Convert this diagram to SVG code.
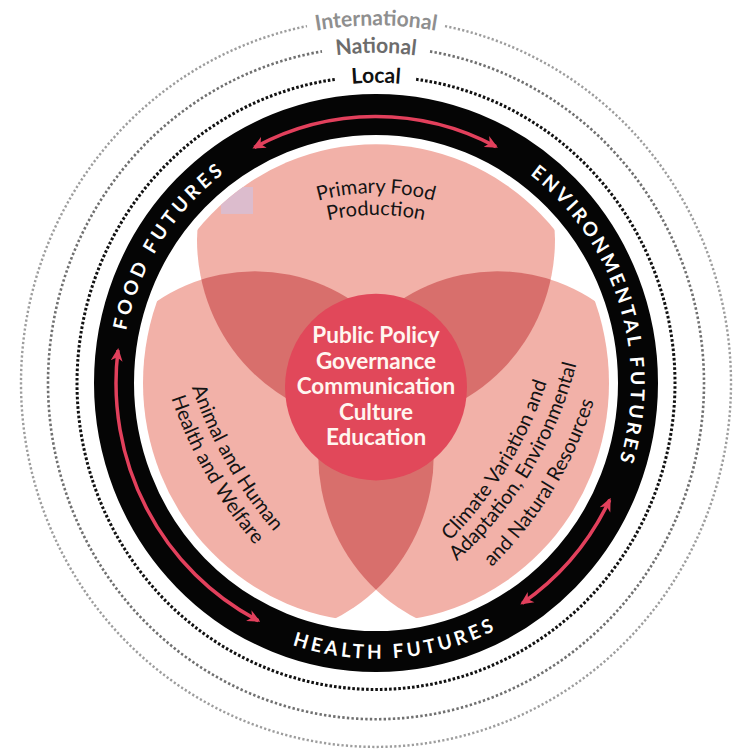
<svg xmlns="http://www.w3.org/2000/svg" width="739" height="754" viewBox="0 0 739 754">
<style>
.ring{fill:none;stroke:#050505;stroke-width:40}
.dl{fill:none;stroke:#111;stroke-width:3;stroke-dasharray:2.6 2}
.dn{fill:none;stroke:#707070;stroke-width:2.6;stroke-dasharray:2.4 2.2}
.di{fill:none;stroke:#9d9d9d;stroke-width:2.4;stroke-dasharray:2.2 2.2}
.petal{fill:#f2b1a8}
.ov{fill:#d86f6c}
.arr{fill:none;stroke:#e2405c;stroke-width:3.5;marker-start:url(#ah);marker-end:url(#ah)}
.rl{font-family:Lato,"Open Sans","Liberation Sans",sans-serif;font-weight:700;font-size:19px;fill:#fff}
.lvl{font-family:Lato,"Open Sans","Liberation Sans",sans-serif;font-weight:700;font-size:21px;text-anchor:middle}
.pt{font-family:Lato,"Open Sans","Liberation Sans",sans-serif;font-size:20px;fill:#141414;text-anchor:middle}
.ct{font-family:Lato,"Open Sans","Liberation Sans",sans-serif;font-weight:700;font-size:22.5px;fill:#fff6f0;text-anchor:middle}
</style>
<defs>
<marker id="ah" viewBox="0 0 12 12" refX="10" refY="6" markerWidth="13" markerHeight="13" markerUnits="userSpaceOnUse" orient="auto-start-reverse"><path d="M0,0.5 L12,6 L0,11.5 L3.5,6Z" fill="#e2405c"/></marker>
<clipPath id="disk"><circle cx="0" cy="0" r="233"/></clipPath>
<clipPath id="cT"><circle cx="0" cy="-140" r="179"/></clipPath>
<clipPath id="cL"><circle cx="-121.2" cy="70" r="179"/></clipPath>
<path id="pFood" d="M-226,118.1 A255,255 0 0 1 10.7,-254.8"/>
<path id="pEnv" d="M53.9,-249.2 A255,255 0 0 1 188.9,171.3"/>
<path id="pHealth" d="M-223,150.4 A269,269 0 0 0 241.8,117.9"/>
<path id="pInt" d="M-302.2,-174.5 A349,349 0 0 1 302.2,-174.5"/>
<path id="pNat" d="M-278.9,-161 A322,322 0 0 1 278.9,-161"/>
<path id="pLoc" d="M-253.7,-146.5 A293,293 0 0 1 253.7,-146.5"/>
<path id="pPF" d="M286,212.6 A216,216 0 0 1 466,212.6"/>
<path id="pPr" d="M286,234.6 A216,216 0 0 1 466,234.6"/>
<path id="pA1" d="M182,355 A450,450 0 0 0 297,557"/>
<path id="pA2" d="M162,367 A450,450 0 0 0 277,569"/>
<path id="pC1" d="M428,561 A400,400 0 0 0 555,354"/>
<path id="pC2" d="M437,578 A400,400 0 0 0 582,339"/>
<path id="pC3" d="M466,590 A400,400 0 0 0 603,368"/>
</defs>
<rect width="739" height="754" fill="#fff"/>
<g transform="translate(376 383) scale(1 1.025)">
  <g id="levels">
    <path class="di" d="M69,-348.2 A355,355 0 1 1 -69,-348.2"/>
    <path class="dn" d="M54,-323.5 A328,328 0 1 1 -54,-323.5"/>
    <path class="dl" d="M40.1,-296.3 A299,299 0 1 1 -40.1,-296.3"/>
    <text class="lvl" fill="#8f8f8f"><textPath href="#pInt" startOffset="50%">International</textPath></text>
    <text class="lvl" fill="#6c6c6c"><textPath href="#pNat" startOffset="50%">National</textPath></text>
    <text class="lvl" fill="#111"><textPath href="#pLoc" startOffset="50%">Local</textPath></text>
  </g>
  <g id="futures-ring">
    <circle class="ring" cx="0" cy="0" r="262"/>
    <text class="rl"><textPath href="#pFood" startOffset="50%" text-anchor="middle" textLength="186" lengthAdjust="spacing">FOOD FUTURES</textPath></text>
    <text class="rl"><textPath href="#pEnv" startOffset="50%" text-anchor="middle" textLength="312" lengthAdjust="spacing">ENVIRONMENTAL FUTURES</textPath></text>
    <text class="rl"><textPath href="#pHealth" startOffset="50%" text-anchor="middle" textLength="208" lengthAdjust="spacing">HEALTH FUTURES</textPath></text>
  </g>
  <g clip-path="url(#disk)">
    <g id="petal-food"><circle class="petal" cx="0" cy="-140" r="179"/></g>
    <g id="petal-health"><circle class="petal" cx="-121.2" cy="70" r="179"/></g>
    <g id="petal-env"><circle class="petal" cx="121.2" cy="70" r="179"/></g>
    <g clip-path="url(#cT)"><circle class="ov" cx="-121.2" cy="70" r="179"/><circle class="ov" cx="121.2" cy="70" r="179"/></g>
    <g clip-path="url(#cL)"><circle class="ov" cx="121.2" cy="70" r="179"/></g>
    <rect x="-155" y="-191.2" width="32" height="26.3" fill="#dcbccd"/>
  </g>
  <g id="core"><circle cx="0" cy="4" r="91" fill="#e1485a"/></g>
  <g id="connectors">
    <path class="arr" d="M-121.7,-229.8 A260,260 0 0 1 120,-230.6"/>
    <path class="arr" d="M-117.6,231.9 A260,260 0 0 1 -258,-32.1"/>
    <path class="arr" d="M233.7,114 A260,260 0 0 1 146.1,215"/>
  </g>
</g>
<g id="label-food">
  <text class="pt" font-size="22"><textPath href="#pPF" startOffset="50%">Primary Food</textPath></text>
  <text class="pt" font-size="22"><textPath href="#pPr" startOffset="50%">Production</textPath></text>
</g>
<g id="label-health">
  <text class="pt"><textPath href="#pA1" startOffset="50%">Animal and Human</textPath></text>
  <text class="pt"><textPath href="#pA2" startOffset="50%">Health and Welfare</textPath></text>
</g>
<g id="label-env">
  <text class="pt" font-size="19"><textPath href="#pC1" startOffset="50%">Climate Variation and</textPath></text>
  <text class="pt" font-size="19"><textPath href="#pC2" startOffset="50%">Adaptation, Environmental</textPath></text>
  <text class="pt" font-size="19"><textPath href="#pC3" startOffset="50%">and Natural Resources</textPath></text>
</g>
<g id="label-core">
  <text class="ct" x="376" y="343">Public Policy</text>
  <text class="ct" x="376" y="368.5">Governance</text>
  <text class="ct" x="376" y="394">Communication</text>
  <text class="ct" x="376" y="419.5">Culture</text>
  <text class="ct" x="376" y="445">Education</text>
</g>
</svg>
